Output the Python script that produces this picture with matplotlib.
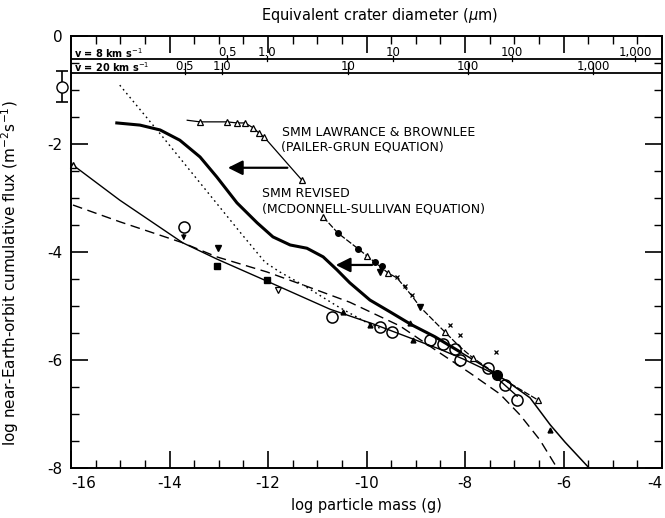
import numpy as np
import matplotlib.pyplot as plt
from matplotlib.ticker import MultipleLocator

plt.rcParams['font.family'] = 'DejaVu Sans'
plt.rcParams['axes.unicode_minus'] = False

# thick curve (shifted SMM flux), becomes thin past about -8
thick_x = [-15.07, -14.60, -14.19, -13.79, -13.38, -13.04, -12.63, -12.22, -11.90, -11.55,
           -11.21, -10.88, -10.60, -10.34, -9.93, -9.52, -9.08, -8.61, -8.10]
thick_y = [-1.61, -1.65, -1.74, -1.93, -2.24, -2.61, -3.09, -3.46, -3.72, -3.87,
           -3.93, -4.09, -4.33, -4.57, -4.89, -5.11, -5.35, -5.57, -5.85]
tail_x = [-8.10, -7.59, -7.09, -6.68, -6.27, -5.97, -5.48]
tail_y = [-5.85, -6.13, -6.43, -6.70, -7.20, -7.52, -8.00]

# thin solid curve
thin_x = [-15.96, -15.01, -13.73, -13.04, -12.02, -10.74, -9.87, -9.06, -8.51, -8.04, -7.49, -6.94]
thin_y = [-2.39, -3.04, -3.83, -4.13, -4.54, -5.06, -5.33, -5.61, -5.80, -5.98, -6.22, -6.67]

# dashed curve
dash_x = [-15.96, -15.01, -13.73, -13.04, -12.02, -11.29, -10.34, -9.32, -8.51, -7.90,
          -7.29, -6.88, -6.48, -6.13]
dash_y = [-3.13, -3.44, -3.83, -4.09, -4.37, -4.61, -4.93, -5.37, -5.87, -6.24,
          -6.63, -7.02, -7.48, -8.00]

# dotted curve
dot_x = [-15.01, -14.19, -13.38, -12.57, -12.06, -11.76, -11.29, -10.60, -9.99, -9.73]
dot_y = [-0.91, -1.81, -2.72, -3.63, -4.19, -4.37, -4.61, -5.00, -5.31, -5.41]

# SMM Lawrance & Brownlee (Pailer-Grun)
lb1_x = [-13.64, -13.38, -12.83, -12.63, -12.47, -12.30, -12.18, -12.08, -11.31]
lb1_y = [-1.56, -1.59, -1.59, -1.61, -1.61, -1.70, -1.80, -1.87, -2.67]

# SMM revised (McDonnell-Sullivan)
lb2_x = [-10.88, -10.58, -10.17, -9.83, -9.56, -9.38, -9.08, -8.91, -8.41, -8.10,
         -7.84, -7.09, -6.52]
lb2_y = [-3.35, -3.65, -3.94, -4.19, -4.39, -4.48, -4.81, -5.02, -5.48, -5.76,
         -5.96, -6.43, -6.74]
tri_x = [-10.88, -9.99, -9.56, -8.41, -7.84, -6.52]
tri_y = [-3.35, -4.07, -4.39, -5.48, -5.96, -6.74]
dotc_x = [-10.58, -10.17, -9.83, -9.69]
dotc_y = [-3.65, -3.94, -4.19, -4.26]
down_x = [-9.73, -8.91, -13.02]
down_y = [-4.37, -5.02, -3.93]
cross_x = [-9.38, -9.22, -9.08, -8.30, -8.10, -7.37]
cross_y = [-4.46, -4.63, -4.80, -5.35, -5.54, -5.85]

# open circles (data)
circ_x = [-10.70, -9.73, -9.48, -8.71, -8.45, -8.20, -8.10, -7.53, -7.19, -6.94]
circ_y = [-5.20, -5.39, -5.48, -5.63, -5.70, -5.80, -6.00, -6.15, -6.46, -6.74]
fcirc_x, fcirc_y = [-7.35], [-6.28]

sq_x = [-13.04, -12.02]
sq_y = [-4.26, -4.52]
otri_x = [-11.80]
otri_y = [-4.70]
ftri_x = [-10.48, -9.93, -9.12, -9.06, -6.27]
ftri_y = [-5.11, -5.35, -5.31, -5.63, -7.30]

# top crater-diameter scales
band1_labels = ['0.5', '1.0', '10', '100', '1,000']
band1_pos = [-12.83, -12.02, -9.46, -7.05, -4.55]
band2_labels = ['0.5', '1.0', '10', '100', '1,000']
band2_pos = [-13.69, -12.93, -10.38, -7.94, -5.40]

fig = plt.figure(figsize=(6.65, 5.18), dpi=100)
ax = fig.add_axes([71/665, 50/518, 591/665, 432/518])

ax.plot(thick_x, thick_y, color='k', lw=2.2)
ax.plot(tail_x, tail_y, color='k', lw=1.1)
ax.plot(thin_x, thin_y, color='k', lw=1.0)
ax.plot(dash_x, dash_y, color='k', lw=1.0, dashes=(7, 4))
ax.plot(dot_x, dot_y, color='k', lw=1.0, dashes=(1.2, 2.5))

ax.plot(lb1_x, lb1_y, color='k', lw=0.9)
ax.plot(lb1_x[1:], lb1_y[1:], ls='none', marker='^', ms=5, mfc='white', mec='k', mew=0.9)
ax.plot(lb2_x, lb2_y, color='k', lw=0.9, dashes=(5, 1.5))
ax.plot(tri_x, tri_y, ls='none', marker='^', ms=5, mfc='white', mec='k', mew=0.9)
ax.plot(dotc_x, dotc_y, ls='none', marker='o', ms=4, color='k')
ax.plot(down_x, down_y, ls='none', marker='v', ms=4, color='k')
ax.plot(cross_x, cross_y, ls='none', marker='x', ms=3, color='k', mew=0.9)

ax.plot(circ_x, circ_y, ls='none', marker='o', ms=8, mfc='none', mec='k', mew=1.1)
ax.plot(fcirc_x, fcirc_y, ls='none', marker='o', ms=7, color='k')
ax.plot(sq_x, sq_y, ls='none', marker='s', ms=4, color='k')
ax.plot(otri_x, otri_y, ls='none', marker='v', ms=5, mfc='white', mec='k', mew=0.9)
ax.plot(ftri_x, ftri_y, ls='none', marker='^', ms=3.5, color='k')
ax.plot([-15.96], [-2.39], ls='none', marker='^', ms=5, mfc='white', mec='k', clip_on=False)

# upper limit point
ax.plot([-13.71], [-3.54], marker='o', ms=8, mfc='white', mec='k', mew=1.1)
ax.annotate('', xy=(-13.71, -3.84), xytext=(-13.71, -3.62),
            arrowprops=dict(arrowstyle='-|>', color='k', lw=1.0, mutation_scale=7))

# point with error bar outside the frame
ax.errorbar([-16.18], [-0.94], yerr=[0.29], fmt='o', ms=8, mfc='white', mec='k',
            ecolor='k', elinewidth=1.2, capsize=4, capthick=1.2, clip_on=False, color='k')

# shift arrows
ax.annotate('', xy=(-12.87, -2.44), xytext=(-11.55, -2.44),
            arrowprops=dict(arrowstyle='-|>', color='k', lw=1.6, mutation_scale=22))
ax.annotate('', xy=(-10.68, -4.24), xytext=(-9.83, -4.24),
            arrowprops=dict(arrowstyle='-|>', color='k', lw=1.6, mutation_scale=22))

ax.text(-11.72, -1.78, 'SMM LAWRANCE & BROWNLEE', fontsize=9, va='center')
ax.text(-11.74, -2.06, '(PAILER-GRUN EQUATION)', fontsize=9, va='center')
ax.text(-12.12, -2.91, 'SMM REVISED', fontsize=9, va='center')
ax.text(-12.12, -3.20, '(MCDONNELL-SULLIVAN EQUATION)', fontsize=9, va='center')

# velocity bands at the top
ax.axhline(-0.43, color='k', lw=1.3)
ax.axhline(-0.685, color='k', lw=1.3)
ax.text(-15.93, -0.31, 'v = 8 km s$^{-1}$', fontsize=7, fontweight='bold', va='center')
ax.text(-15.93, -0.57, 'v = 20 km s$^{-1}$', fontsize=7, fontweight='bold', va='center')
for lab, p in zip(band1_labels, band1_pos):
    ax.text(p, -0.30, lab, fontsize=8.5, ha='center', va='center')
    ax.plot([p, p], [-0.37, -0.46], color='k', lw=0.9)
for lab, p in zip(band2_labels, band2_pos):
    ax.text(p, -0.56, lab, fontsize=8.5, ha='center', va='center')
    ax.plot([p, p], [-0.50, -0.70], color='k', lw=0.9)

ax.set_xlim(-16, -4)
ax.set_ylim(-8, 0)
ax.set_xticks([-16, -14, -12, -10, -8, -6, -4])
ax.set_yticks([-8, -6, -4, -2, 0])
ax.xaxis.set_minor_locator(MultipleLocator(0.5))
ax.yaxis.set_minor_locator(MultipleLocator(0.5))
ax.tick_params(which='major', direction='in', top=True, right=True, length=12, width=1.2,
               labelsize=11, pad=6)
ax.tick_params(which='minor', direction='in', top=True, right=True, length=6, width=1.0)
xlabels = ax.get_xticklabels()
xlabels[0].set_ha('left')
xlabels[-1].set_ha('right')
for s in ax.spines.values():
    s.set_linewidth(1.4)

ax.set_xlabel('log particle mass (g)', fontsize=10.5)
ax.xaxis.set_label_coords(0.5, -0.07)
ax.set_ylabel('log near-Earth-orbit cumulative flux (m$^{-2}$s$^{-1}$)', fontsize=11)
ax.yaxis.set_label_coords(-0.085, 0.45)
fig.text(0.571, 0.971, 'Equivalent crater diameter ($\\mu$m)', fontsize=10.5, ha='center', va='center')

fig.savefig('out.png', dpi=100)
